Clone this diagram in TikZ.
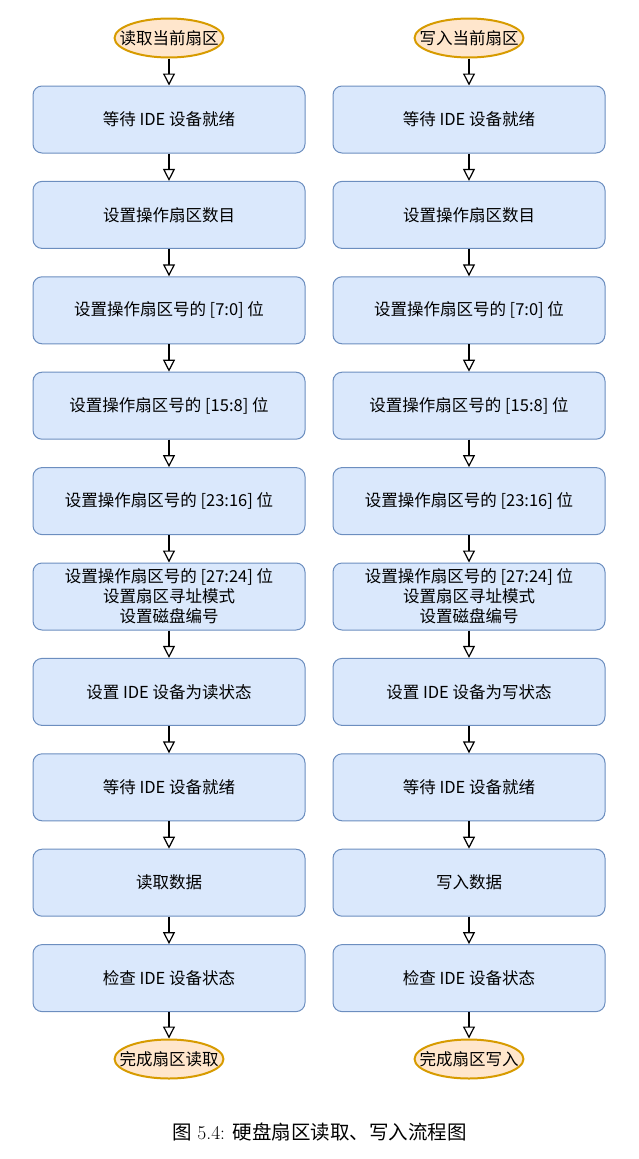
\documentclass[tikz,border=0pt]{standalone}
\usepackage{fontspec}
\newfontfamily\cjk{Noto Sans CJK SC}
\usetikzlibrary{arrows.meta,shapes.geometric}

\definecolor{procfill}{HTML}{DAE8FC}
\definecolor{procline}{HTML}{6C8EBF}
\definecolor{termfill}{HTML}{FFE6CC}
\definecolor{termline}{HTML}{D79B00}

\tikzset{
  proc/.style={draw=procline, fill=procfill, line width=1pt, rounded corners=9pt,
    minimum width=272pt, minimum height=67pt, align=center,
    font=\cjk\fontsize{16.5pt}{20pt}\selectfont},
  term/.style={ellipse, draw=termline, fill=termfill, line width=2pt,
    minimum height=39pt, inner xsep=-11pt, inner ysep=0pt,
    font=\cjk\fontsize{16.5pt}{20pt}\selectfont},
  flow/.style={-{Triangle[length=12pt,width=12pt,fill=white]}, line width=1.2pt}
}

\begin{document}
\begin{tikzpicture}[x=1pt, y=1pt]
\useasboundingbox (0,0) rectangle (639,-1159);

% start and end
\node[term] (lstart) at (169,-38) {读取当前扇区};
\node[term] (rstart) at (469,-38) {写入当前扇区};
\node[term] (lend) at (169,-1059) {完成扇区读取};
\node[term] (rend) at (469,-1059) {完成扇区写入};

% read steps
\foreach \t [count=\i] in {等待 IDE 设备就绪, 设置操作扇区数目,
  设置操作扇区号的 [7:0] 位, 设置操作扇区号的 [15:8] 位,
  设置操作扇区号的 [23:16] 位,
  {设置操作扇区号的 [27:24] 位\\设置扇区寻址模式\\设置磁盘编号},
  设置 IDE 设备为读状态, 等待 IDE 设备就绪, 读取数据, 检查 IDE 设备状态}
{
	\node[proc] (l\i) at (169,{-119.5-(\i-1)*95.4}) {\t};
}

% write steps
\foreach \t [count=\i] in {等待 IDE 设备就绪, 设置操作扇区数目,
  设置操作扇区号的 [7:0] 位, 设置操作扇区号的 [15:8] 位,
  设置操作扇区号的 [23:16] 位,
  {设置操作扇区号的 [27:24] 位\\设置扇区寻址模式\\设置磁盘编号},
  设置 IDE 设备为写状态, 等待 IDE 设备就绪, 写入数据, 检查 IDE 设备状态}
{
	\node[proc] (r\i) at (469,{-119.5-(\i-1)*95.4}) {\t};
}

% arrows
\foreach \s in {l,r}
{
	\draw[flow] (\s start) -- (\s1);
	\foreach \i in {1,...,9}
	{
		\pgfmathtruncatemacro\j{\i+1}
		\draw[flow] (\s\i) -- (\s\j);
	}
	\draw[flow] (\s10) -- (\s end);
}

\node (caption) at (319.5,-1132) {\fontsize{19.5pt}{22pt}\selectfont{\cjk 图} 5.4: {\cjk 硬盘扇区读取、写入流程图}};

\end{tikzpicture}
\end{document}
